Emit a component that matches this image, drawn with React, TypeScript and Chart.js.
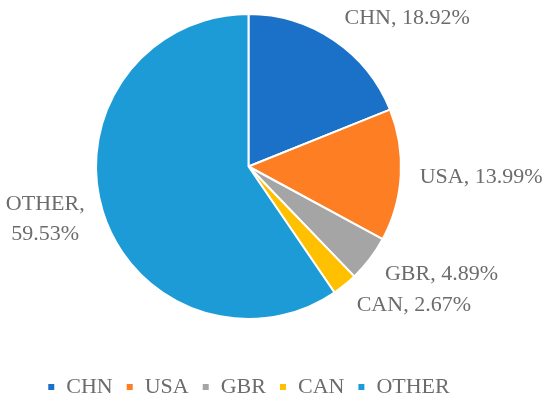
import React, { useEffect, useRef } from "react";
import { Chart, registerables } from "chart.js";

Chart.register(...registerables);

const categories = ["CHN", "USA", "GBR", "CAN", "OTHER"];
const shares = [18.92, 13.99, 4.89, 2.67, 59.53];
const sliceLabels = [["CHN, 18.92%"], ["USA, 13.99%"], ["GBR, 4.89%"], ["CAN, 2.67%"], ["OTHER,", "59.53%"]];
const colors = ["#1a71c7", "#fd7e23", "#a5a5a5", "#ffc000", "#1c9bd7"];

const FONT = "'Liberation Serif', 'Times New Roman', serif";
const TEXT = "#6c6c6c";

const labelPlugin = {
  id: "outerLabels",
  afterDatasetsDraw(chart: any) {
    const ctx = chart.ctx;
    const meta = chart.getDatasetMeta(0);
    ctx.save();
    ctx.font = `22px ${FONT}`;
    ctx.fillStyle = TEXT;
    ctx.textBaseline = "middle";
    meta.data.forEach((arc: any, i: number) => {
      const { x, y, startAngle, endAngle, outerRadius } = arc.getProps(
        ["x", "y", "startAngle", "endAngle", "outerRadius"],
        true
      );
      const mid = (startAngle + endAngle) / 2;
      const lx = x + Math.cos(mid) * (outerRadius + 19);
      const ly = y + Math.sin(mid) * (outerRadius + 26);
      const right = Math.cos(mid) >= 0;
      const lines = sliceLabels[i];
      const lh = 30;
      lines.forEach((t, k) => {
        const yy = ly + (k - (lines.length - 1) / 2) * lh;
        if (right) {
          ctx.textAlign = "left";
          ctx.fillText(t, lx, yy);
        } else {
          ctx.textAlign = "center";
          const w = Math.max(...lines.map((s) => ctx.measureText(s).width));
          ctx.fillText(t, lx - w / 2, yy);
        }
      });
    });
    ctx.restore();
  },
};

export default function App() {
  const ref = useRef<HTMLCanvasElement | null>(null);
  useEffect(() => {
    document.body.style.margin = "0";
    const chart = new Chart(ref.current as HTMLCanvasElement, {
      type: "pie",
      data: {
        labels: categories,
        datasets: [
          {
            data: shares,
            backgroundColor: colors,
            borderColor: "#ffffff",
            borderWidth: 2,
          },
        ],
      },
      options: {
        animation: false,
        responsive: false,
        radius: 152.5,
        layout: { padding: { top: 15, left: 0, right: 53, bottom: 2 } },
        plugins: {
          tooltip: { enabled: false },
          legend: {
            position: "bottom",
            title: {
              display: true,
              text: " ",
              font: { size: 10, lineHeight: 1 },
              padding: { top: 35, bottom: 0 },
            },
            labels: {
              boxWidth: 8,
              boxHeight: 8,
              padding: 13,
              color: TEXT,
              font: { family: FONT, size: 22 },
            },
          },
        },
      } as any,
      plugins: [labelPlugin],
    });
    return () => chart.destroy();
  }, []);
  return (
    <div style={{ position: "absolute", left: 0, top: 0, width: 550, height: 410, background: "#fff" }}>
      <canvas ref={ref} width={550} height={410} style={{ width: 550, height: 410, display: "block" }} />
    </div>
  );
}
